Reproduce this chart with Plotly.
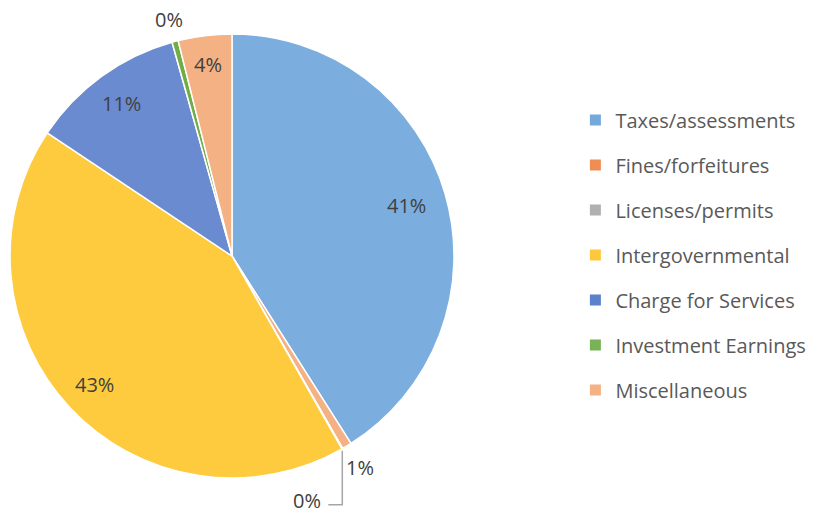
import math
import plotly.graph_objects as go

categories = ["Taxes/assessments", "Fines/forfeitures", "Licenses/permits",
              "Intergovernmental", "Charge for Services", "Investment Earnings",
              "Miscellaneous"]
shares = [41.0, 0.7, 0.05, 42.6, 11.3, 0.45, 3.9]
slice_colors = ["#7BAEDF", "#F4B183", "#A5A5A5", "#FECB3E", "#6A8BD0", "#70AD47", "#F4B183"]
legend_colors = ["#74A9DC", "#EE8E55", "#B0B0B0", "#FFC83A", "#5B80CC", "#78B257", "#F4B183"]
# radial position of each data label, as a fraction of the radius (None = leader line)
label_radius = [0.82, 1.115, None, 0.85, 0.85, 1.10, 0.87]

W, H = 815, 513
cx, cy, R = 232, 256, 222          # pie centre and radius in pixels (from top-left)
font_family = "Open Sans, Noto Sans, sans-serif"
text_color = "#404040"

fig = go.Figure()
fig.add_trace(go.Pie(
    labels=categories, values=shares, sort=False, direction="clockwise",
    rotation=0, showlegend=False, textinfo="none",
    marker=dict(colors=slice_colors, line=dict(color="white", width=1.5)),
    domain=dict(x=[(cx - R) / W, (cx + R) / W],
                y=[(H - cy - R) / H, (H - cy + R) / H]),
))

# legend entries as separate groups so the vertical spacing can be set
for i, (name, col) in enumerate(zip(categories, legend_colors)):
    fig.add_trace(go.Scatter(
        x=[None], y=[None], mode="markers", name=name, legendgroup=f"g{i}",
        marker=dict(symbol="square", size=11, color=col),
    ))

def px_to_paper(x, y):
    return x / W, (H - y) / H

total = sum(shares)
cum = 0.0
for s, rf in zip(shares, label_radius):
    mid = (cum + s / 2) / total * 2 * math.pi
    cum += s
    txt = f"{round(s / total * 100)}%"
    if rf is None:
        # leader line: down from the slice edge, then to the left
        ex = cx + R * math.sin(mid)
        ey = cy - R * math.cos(mid)
        x0, y0 = px_to_paper(ex, ey + 2)
        x1, y1 = px_to_paper(ex, cy + R * 1.12)
        x2, _ = px_to_paper(ex - 14, 0)
        fig.add_shape(type="path", xref="paper", yref="paper",
                      path=f"M {x0} {y0} L {x1} {y1} L {x2} {y1}",
                      line=dict(color="#A6A6A6", width=1.5))
        lx, ly = px_to_paper(ex - 35, cy + R * 1.10)
    else:
        lx, ly = px_to_paper(cx + R * rf * math.sin(mid), cy - R * rf * math.cos(mid))
    fig.add_annotation(x=lx, y=ly, xref="paper", yref="paper", text=txt,
                       showarrow=False, xanchor="center", yanchor="middle",
                       font=dict(family=font_family, size=20, color=text_color))

fig.update_layout(
    width=W, height=H, margin=dict(l=0, r=0, t=0, b=0),
    paper_bgcolor="white", plot_bgcolor="white",
    xaxis=dict(visible=False), yaxis=dict(visible=False),
    legend=dict(x=0.706, y=0.503, xanchor="left", yanchor="middle",
                tracegroupgap=16, itemwidth=30,
                font=dict(family=font_family, size=20, color="#595959")),
)

# drop the browser's default page margin so the figure sits at the window corner
fig.write_html("out.html", config={"displayModeBar": False},
               post_script="document.body.style.margin='0';")
